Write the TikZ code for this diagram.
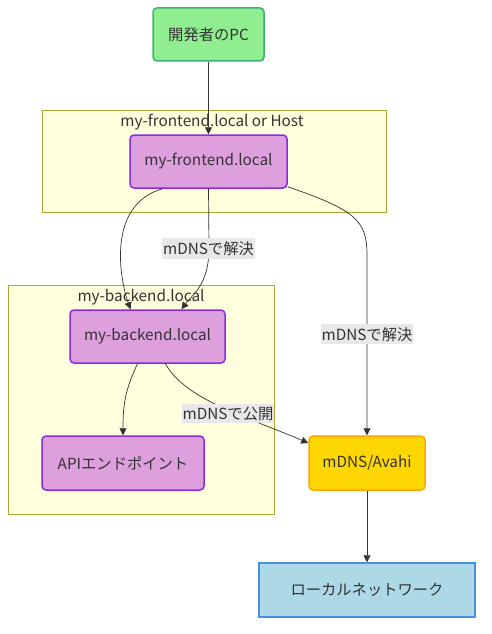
\documentclass[tikz,border=0pt]{standalone}
\usepackage{fontspec}
\setmainfont{Noto Sans CJK JP}
\usepackage{tikz}
\usetikzlibrary{positioning, arrows.meta, calc}
\usepackage{xcolor}

\definecolor{txtcol}{HTML}{333333}
\definecolor{edgecol}{HTML}{333333}
\definecolor{pcfill}{HTML}{90EE90}
\definecolor{pcline}{HTML}{3CB371}
\definecolor{plumfill}{HTML}{DDA0DD}
\definecolor{plumline}{HTML}{8A2BE2}
\definecolor{avfill}{HTML}{FFD700}
\definecolor{avline}{HTML}{FFA500}
\definecolor{netfill}{HTML}{ADD8E6}
\definecolor{netline}{HTML}{4A90E2}
\definecolor{clfill}{HTML}{FFFFDE}
\definecolor{clline}{HTML}{AAAA33}
\definecolor{lblfill}{HTML}{E8E8E8}

\begin{document}
\begin{tikzpicture}[
        x=1pt, y=-1pt,
        every node/.style={font=\fontsize{15.3}{17}\selectfont, text=txtcol},
        box/.style={draw, line width=1.5pt, rounded corners=4pt, minimum height=53pt},
        plumbox/.style={box, fill=plumfill, draw=plumline},
        cluster/.style={draw=clline, fill=clfill, line width=0.8pt, inner sep=0pt},
        edge/.style={draw=edgecol, line width=0.7pt, -{Triangle[length=7pt,width=7pt]}},
        elabel/.style={fill=lblfill, inner xsep=1pt, inner ysep=3pt}
      ]
      \useasboundingbox (0,0) rectangle (491,634);

      % subgraphs
      \node[cluster, minimum width=344pt, minimum height=102pt] (fecl) at (214,161) {};
      \node[cluster, minimum width=266pt, minimum height=229pt] (becl) at (141,399.5) {};
      \node (fecltitle) at (212,122) {my-frontend.local or Host};
      \node (becltitle) at (141,297) {my-backend.local};

      % nodes
      \node[box, fill=pcfill, draw=pcline, minimum width=111pt] (pc) at (208.5,34.5) {開発者のPC};
      \node[plumbox, minimum width=157pt] (fe) at (208.5,161.5) {my-frontend.local};
      \node[plumbox, minimum width=155pt] (be) at (147.5,336.5) {my-backend.local};
      \node[plumbox, minimum width=162pt, minimum height=54pt] (api) at (123,463) {APIエンドポイント};
      \node[box, fill=avfill, draw=avline, minimum width=116pt, minimum height=54pt] (av) at (367,463) {mDNS/Avahi};
      \node[box, rounded corners=0pt, fill=netfill, draw=netline, minimum width=216pt, minimum height=54pt] (net) at (367,590) {ローカルネットワーク};

      % connectors
      \draw[edge] (pc) -- (fe);
      \draw[edge] ([xshift=-46pt]fe.south) .. controls (106,205) and (120,280) .. ([xshift=-17pt]be.north);
      \draw[edge] (fe.south) -- (209,248) .. controls (209,285) and (192,295) .. ([xshift=34pt]be.north);
      \node[elabel] (res1) at (208.5,248.5) {mDNSで解決};
      \draw[edge] ([yshift=2pt]fe.south east) .. controls (355,210) and (367,220) .. (367,255) -- (av.north)
        node[elabel, pos=0.44] (res2) {mDNSで解決};
      \draw[edge] ([xshift=-10pt]be.south) .. controls (125,390) and (123,405) .. (api.north);
      \draw[edge] ([xshift=18pt]be.south) .. controls (185,400) and (250,418) .. ([yshift=20pt]av.west);
      \node[elabel] (pub) at (228,413.5) {mDNSで公開};
      \draw[edge] (av) -- (net);
    \end{tikzpicture}
\end{document}
